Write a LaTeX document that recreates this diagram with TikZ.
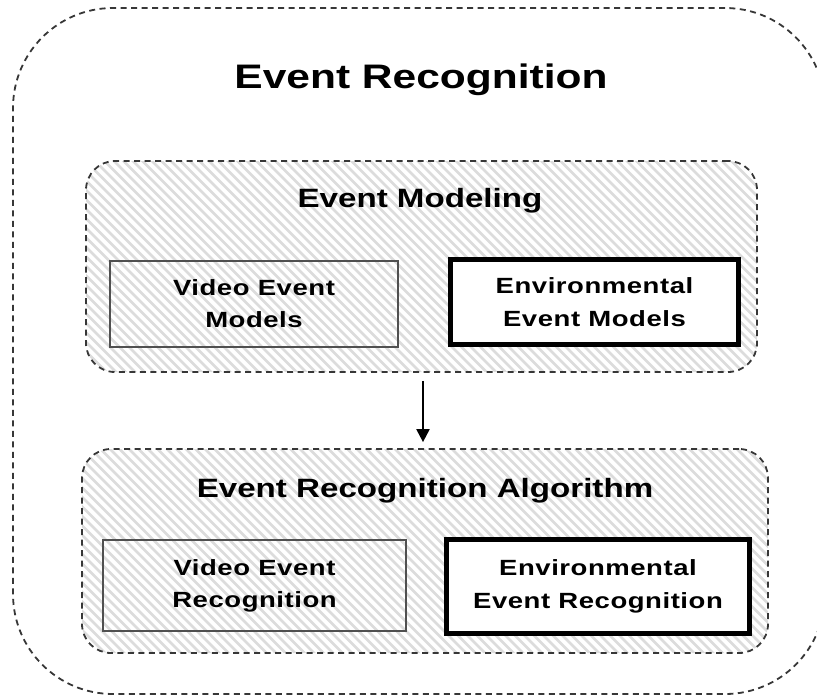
\documentclass[tikz,border=0pt]{standalone}
\usepackage{fontspec}
\setmainfont{Liberation Sans}[FakeStretch=1.25]
\usetikzlibrary{arrows.meta,calc}
\definecolor{dashgray}{RGB}{55,55,55}
\definecolor{hatchgray}{RGB}{220,220,220}
\definecolor{thingray}{RGB}{80,80,80}
\tikzset{
  x=1pt,y=-1pt,
  dashbox/.style={draw=dashgray,line width=1.8pt,dash pattern=on 6pt off 4.5pt},
  hatchline/.style={draw=hatchgray,solid,line width=2.6pt},
  hatched/.style={path picture={
    \foreach \i in {-400,-390.5,...,800}
      \draw[hatchline] ([xshift=\i pt,yshift=10pt]path picture bounding box.north west) -- ++(330,330);}},
  container/.style={dashbox,hatched,rounded corners=29pt,inner sep=0pt},
  videobox/.style={draw=thingray,line width=2pt,inner sep=0pt,align=center,
    font=\fontsize{22}{32}\selectfont\bfseries\addfontfeature{LetterSpace=2.5}},
  envbox/.style={draw=black,fill=white,line width=5pt,inner sep=0pt,align=center,
    font=\fontsize{22}{33}\selectfont\bfseries\addfontfeature{LetterSpace=2.5}},
  heading/.style={anchor=base,inner sep=0pt,font=\fontsize{26.5}{30}\selectfont\bfseries},
  arr/.style={draw=black,line width=2.2pt,-{Triangle[length=13pt,width=13pt]}}
}
\begin{document}
\begin{tikzpicture}
\useasboundingbox (0,0) rectangle (817,697);
\begin{scope}
\clip (0,0) rectangle (817,697);
\node[dashbox,rounded corners=100pt,minimum width=812pt,minimum height=686pt,inner sep=0pt] (outer) at (419,351) {};
\end{scope}
\node[anchor=base,inner sep=0pt,font=\fontsize{34}{40}\selectfont\bfseries] (title) at (421,88) {Event Recognition};

\node[container,minimum width=671pt,minimum height=211pt] (model) at (421.5,266.5) {};
\node[heading] (modelt) at (420,207) {Event Modeling};
\node[videobox,minimum width=288pt,minimum height=86pt] (vem) at (254,304) {Video Event\\Models};
\node[envbox,minimum width=288pt,minimum height=85pt] (eem) at (594.5,302) {Environmental\\Event Models};

\node[container,minimum width=686pt,minimum height=204pt] (algo) at (425,551) {};
\node[heading] (algot) at (425,497) {Event Recognition Algorithm};
\node[videobox,minimum width=303pt,minimum height=91pt] (ver) at (254.5,585.5) {Video Event\\Recognition};
\node[envbox,minimum width=303pt,minimum height=94pt] (eer) at (598,586.5) {Environmental\\Event Recognition};

\coordinate (ax) at (423,0);
\draw[arr,shorten <=8pt,shorten >=6pt] (model.south -| ax) -- (algo.north -| ax);
\end{tikzpicture}
\end{document}
